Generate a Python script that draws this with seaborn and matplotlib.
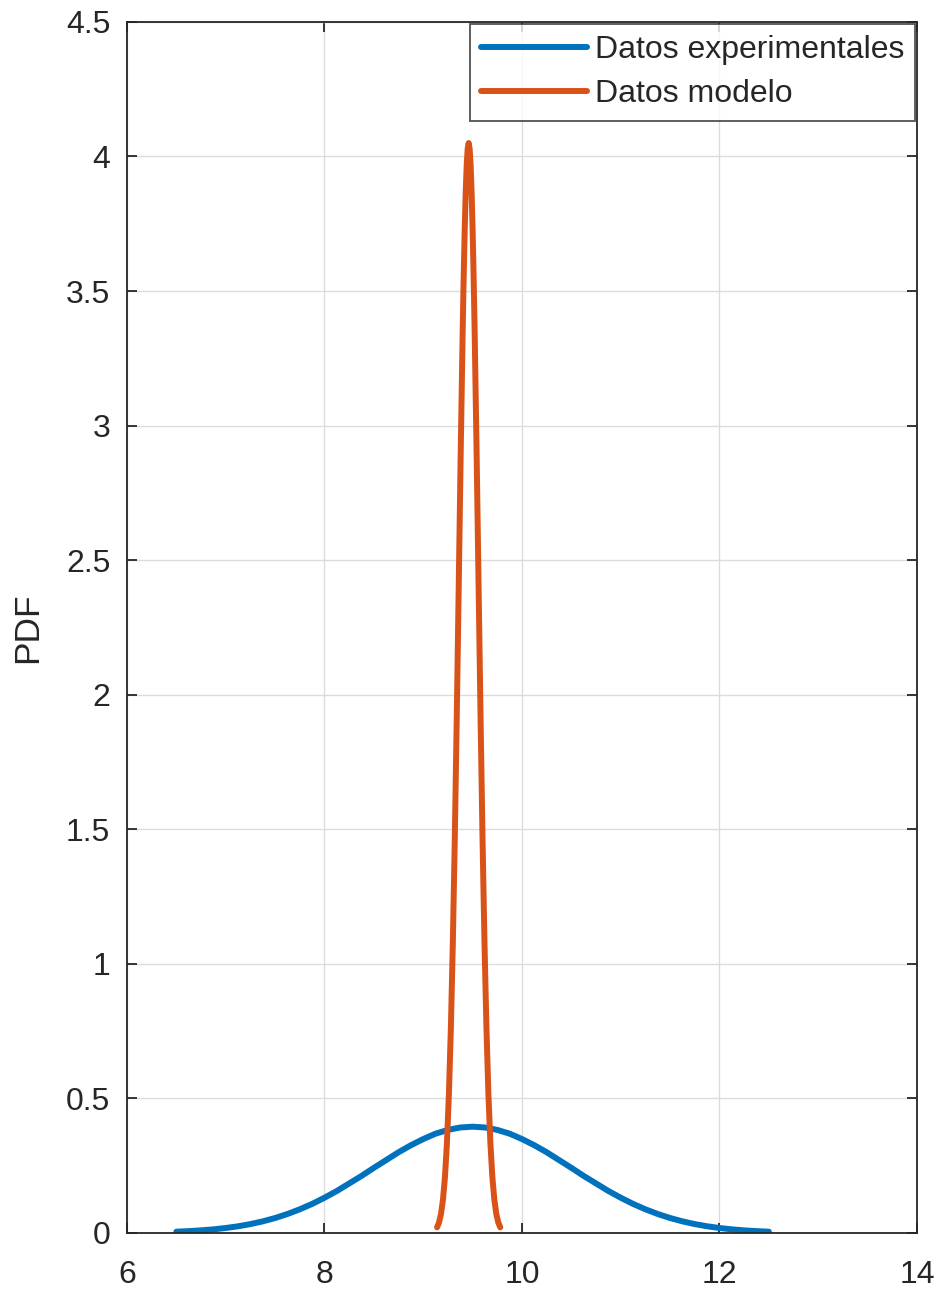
import numpy as np
import pandas as pd
import matplotlib
matplotlib.use("Agg")
import matplotlib.pyplot as plt
import seaborn as sns

# Datos experimentales (x, PDF)
exp_x = [6.5, 6.625, 6.75, 6.875, 7.0, 7.125, 7.25, 7.375, 7.5, 7.625, 7.75, 7.875,
         8.0, 8.125, 8.25, 8.375, 8.5, 8.625, 8.75, 8.875, 9.0, 9.125, 9.25, 9.375,
         9.5,
         9.625, 9.75, 9.875, 10.0, 10.125, 10.25, 10.375, 10.5, 10.625, 10.75, 10.875, 11.0,
         11.125, 11.25, 11.375, 11.5, 11.625, 11.75, 11.875, 12.0, 12.125, 12.25, 12.375, 12.5]
exp_y = [0.0048, 0.0069, 0.0097, 0.0135, 0.0185, 0.0249, 0.0330, 0.0432, 0.0556, 0.0705, 0.088, 0.108,
         0.131, 0.156, 0.184, 0.212, 0.242, 0.271, 0.300, 0.326, 0.349, 0.369, 0.383, 0.392,
         0.395,
         0.392, 0.383, 0.369, 0.349, 0.326, 0.300, 0.271, 0.242, 0.212, 0.184, 0.156, 0.131,
         0.108, 0.088, 0.0705, 0.0556, 0.0432, 0.0330, 0.0249, 0.0185, 0.0135, 0.0097, 0.0069, 0.0048]

# Datos modelo (x, PDF)
mod_x = [9.14, 9.16, 9.18, 9.20, 9.22, 9.24, 9.26, 9.28, 9.30, 9.32, 9.34, 9.36, 9.38, 9.40,
         9.41, 9.42, 9.43, 9.44, 9.45, 9.46, 9.47, 9.48, 9.49, 9.50, 9.51,
         9.52, 9.54, 9.56, 9.58, 9.60, 9.62, 9.64, 9.66, 9.68, 9.70, 9.72, 9.74, 9.76, 9.78]
mod_y = [0.021, 0.039, 0.071, 0.124, 0.208, 0.334, 0.516, 0.763, 1.083, 1.475, 1.928, 2.419, 2.912, 3.364,
         3.560, 3.729, 3.866, 3.967, 4.029, 4.05, 4.029, 3.967, 3.866, 3.729, 3.560,
         3.364, 2.912, 2.419, 1.928, 1.475, 1.083, 0.763, 0.516, 0.334, 0.208, 0.124, 0.071, 0.039, 0.021]

labels = ["Datos experimentales", "Datos modelo"]
colors = ["#0072BD", "#D95319"]
x_ticks = [6, 8, 10, 12, 14]
y_ticks = [0, 0.5, 1, 1.5, 2, 2.5, 3, 3.5, 4, 4.5]

df = pd.concat([
    pd.DataFrame({"x": exp_x, "y": exp_y, "serie": labels[0]}),
    pd.DataFrame({"x": mod_x, "y": mod_y, "serie": labels[1]}),
], ignore_index=True)

sns.set_style("white")
plt.rcParams["font.family"] = ["Liberation Sans", "DejaVu Sans"]

fig = plt.figure(figsize=(9.44, 12.9), dpi=100)
ax = fig.add_axes([0.1345, 0.0442, 0.8369, 0.9388])

sns.lineplot(data=df, x="x", y="y", hue="serie", palette=colors, linewidth=4.3,
             sort=False, estimator=None, ax=ax, legend=True)
for ln in ax.get_lines():
    ln.set_solid_capstyle("round")
    ln.set_solid_joinstyle("round")

ax.set_xlim(6, 14)
ax.set_ylim(0, 4.5)
ax.set_xticks(x_ticks)
ax.set_yticks(y_ticks)
ax.set_xticklabels([str(t) for t in x_ticks])
ax.set_yticklabels([("%g" % t) for t in y_ticks])
ax.set_xlabel("")
ax.set_ylabel("PDF", fontsize=25.5, color="#262626", labelpad=16)

ax.grid(True, color="#dcdcdc", linewidth=1.0)
ax.set_axisbelow(True)
ax.tick_params(direction="in", length=7, width=1.3, colors="#262626", labelsize=23,
               top=True, right=True, bottom=True, left=True)
ax.tick_params(axis="x", pad=19.5)
ax.tick_params(axis="y", pad=12)
for s in ax.spines.values():
    s.set_visible(True)
    s.set_color("#262626")
    s.set_linewidth(1.3)

leg = ax.legend(loc="upper right", fontsize=23, frameon=True, fancybox=False,
                edgecolor="#262626", borderaxespad=0.05, handlelength=3.3,
                handletextpad=0.25, borderpad=0.36, labelspacing=0.45)
leg.get_frame().set_linewidth(1.3)
for t in leg.get_texts():
    t.set_color("#262626")

fig.savefig("out.png", dpi=100)
